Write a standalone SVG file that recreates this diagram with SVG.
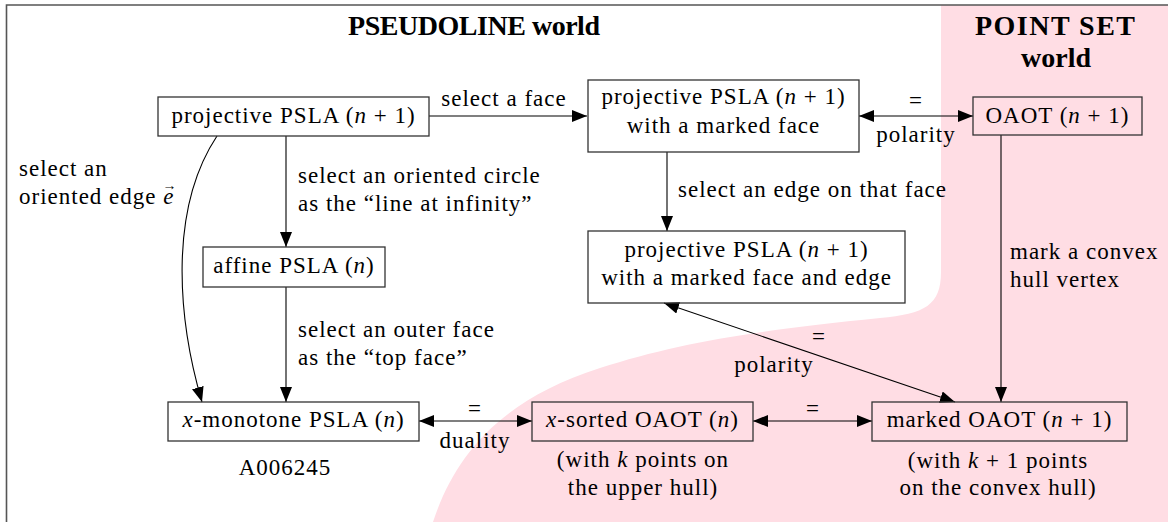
<svg xmlns="http://www.w3.org/2000/svg" width="1168" height="522" viewBox="0 0 1168 522">
<style>
.t{font-family:'Liberation Serif','DejaVu Serif',serif;font-size:23px;letter-spacing:1px;fill:#000}
.m{text-anchor:middle}
.i{font-style:italic}
.vec{font-size:14px;font-style:normal;letter-spacing:0}
.ttl{font-family:'Liberation Serif','DejaVu Serif',serif;font-size:28px;font-weight:bold;fill:#000;text-anchor:middle}
.box{fill:none;stroke:#333;stroke-width:1.3}
.c{fill:none;stroke:#000;stroke-width:1.1}
.one{marker-end:url(#ah)}
.two{marker-start:url(#ah);marker-end:url(#ah)}
</style>
<defs>
<marker id="ah" markerUnits="userSpaceOnUse" markerWidth="16" markerHeight="13" refX="15" refY="6" orient="auto-start-reverse">
<path d="M0,0 L15,6 L0,12 Z" fill="#000"/>
</marker>
</defs>
<rect x="0" y="0" width="1168" height="522" fill="#fff"/>
<path id="pointset-region" d="M433,522 C455,455 500,400 600,368 C680,342 760,330 880,318 C925,314 941,305 941,272 V5 H1168 V522 Z" fill="#ffdde4"/>
<path id="frame" d="M6.5,522 V5 H1168" fill="none" stroke="#555" stroke-width="1.6"/>

<g id="titles">
<text class="ttl" x="474" y="35" textLength="252" lengthAdjust="spacing">PSEUDOLINE world</text>
<text class="ttl" x="1055" y="35" textLength="160" lengthAdjust="spacing">POINT SET</text>
<text class="ttl" x="1056" y="67">world</text>
</g>

<g id="connectors">
<path class="c one" d="M429,116 H587"/>
<path class="c two" d="M859,116 H973"/>
<path class="c one" d="M286,136 V247"/>
<path class="c one" d="M217,136 C168,210 178,320 202,402"/>
<path class="c one" d="M286,287 V402"/>
<path class="c one" d="M667,152 V231"/>
<path class="c one" d="M1001,135 V402"/>
<path class="c two" d="M419,421 H532"/>
<path class="c two" d="M753,421 H872"/>
<path class="c two" d="M955,402 L664,303"/>
</g>

<g id="connector-labels">
<text class="t m" x="504" y="106">select a face</text>
<text class="t m" x="916" y="108">=</text>
<text class="t m" x="916" y="142">polarity</text>
<text class="t" x="298" y="183">select an oriented circle</text>
<text class="t" x="298" y="211">as the “line at infinity”</text>
<text class="t" x="19" y="176">select an</text>
<text class="t" x="19" y="204">oriented edge <tspan class="i">e</tspan><tspan class="vec" dx="-12" dy="-14">→</tspan></text>
<text class="t" x="678" y="197">select an edge on that face</text>
<text class="t" x="1010" y="259">mark a convex</text>
<text class="t" x="1010" y="287">hull vertex</text>
<text class="t" x="298" y="337">select an outer face</text>
<text class="t" x="298" y="365">as the “top face”</text>
<text class="t m" x="819" y="344">=</text>
<text class="t m" x="774" y="372">polarity</text>
<text class="t m" x="475" y="416">=</text>
<text class="t m" x="475" y="448">duality</text>
<text class="t m" x="813" y="416">=</text>
</g>

<g id="node-proj">
<rect class="box" x="158" y="97" width="271" height="39"/>
<text class="t m" x="293.5" y="123">projective PSLA (<tspan class="i">n</tspan> + 1)</text>
</g>
<g id="node-proj-face">
<rect class="box" x="588" y="80" width="271" height="72"/>
<text class="t m" x="723.5" y="104">projective PSLA (<tspan class="i">n</tspan> + 1)</text>
<text class="t m" x="723.5" y="133">with a marked face</text>
</g>
<g id="node-oaot">
<rect class="box" x="973" y="97" width="169" height="38"/>
<text class="t m" x="1057.5" y="123">OAOT (<tspan class="i">n</tspan> + 1)</text>
</g>
<g id="node-proj-face-edge">
<rect class="box" x="588" y="231" width="317" height="72"/>
<text class="t m" x="746.5" y="257">projective PSLA (<tspan class="i">n</tspan> + 1)</text>
<text class="t m" x="746.5" y="285">with a marked face and edge</text>
</g>
<g id="node-affine">
<rect class="box" x="203" y="247" width="182" height="40"/>
<text class="t m" x="294" y="273">affine PSLA (<tspan class="i">n</tspan>)</text>
</g>
<g id="node-xmono">
<rect class="box" x="168" y="402" width="251" height="39"/>
<text class="t m" x="293.5" y="427"><tspan class="i">x</tspan>-monotone PSLA (<tspan class="i">n</tspan>)</text>
<text class="t m" x="285" y="475">A006245</text>
</g>
<g id="node-xsorted">
<rect class="box" x="532" y="402" width="221" height="39"/>
<text class="t m" x="642.5" y="427"><tspan class="i">x</tspan>-sorted OAOT (<tspan class="i">n</tspan>)</text>
<text class="t m" x="643" y="467">(with <tspan class="i">k</tspan> points on</text>
<text class="t m" x="643" y="495">the upper hull)</text>
</g>
<g id="node-marked">
<rect class="box" x="872" y="402" width="255" height="39"/>
<text class="t m" x="999.5" y="427">marked OAOT (<tspan class="i">n</tspan> + 1)</text>
<text class="t m" x="998" y="468">(with <tspan class="i">k</tspan> + 1 points</text>
<text class="t m" x="998" y="495">on the convex hull)</text>
</g>
</svg>
